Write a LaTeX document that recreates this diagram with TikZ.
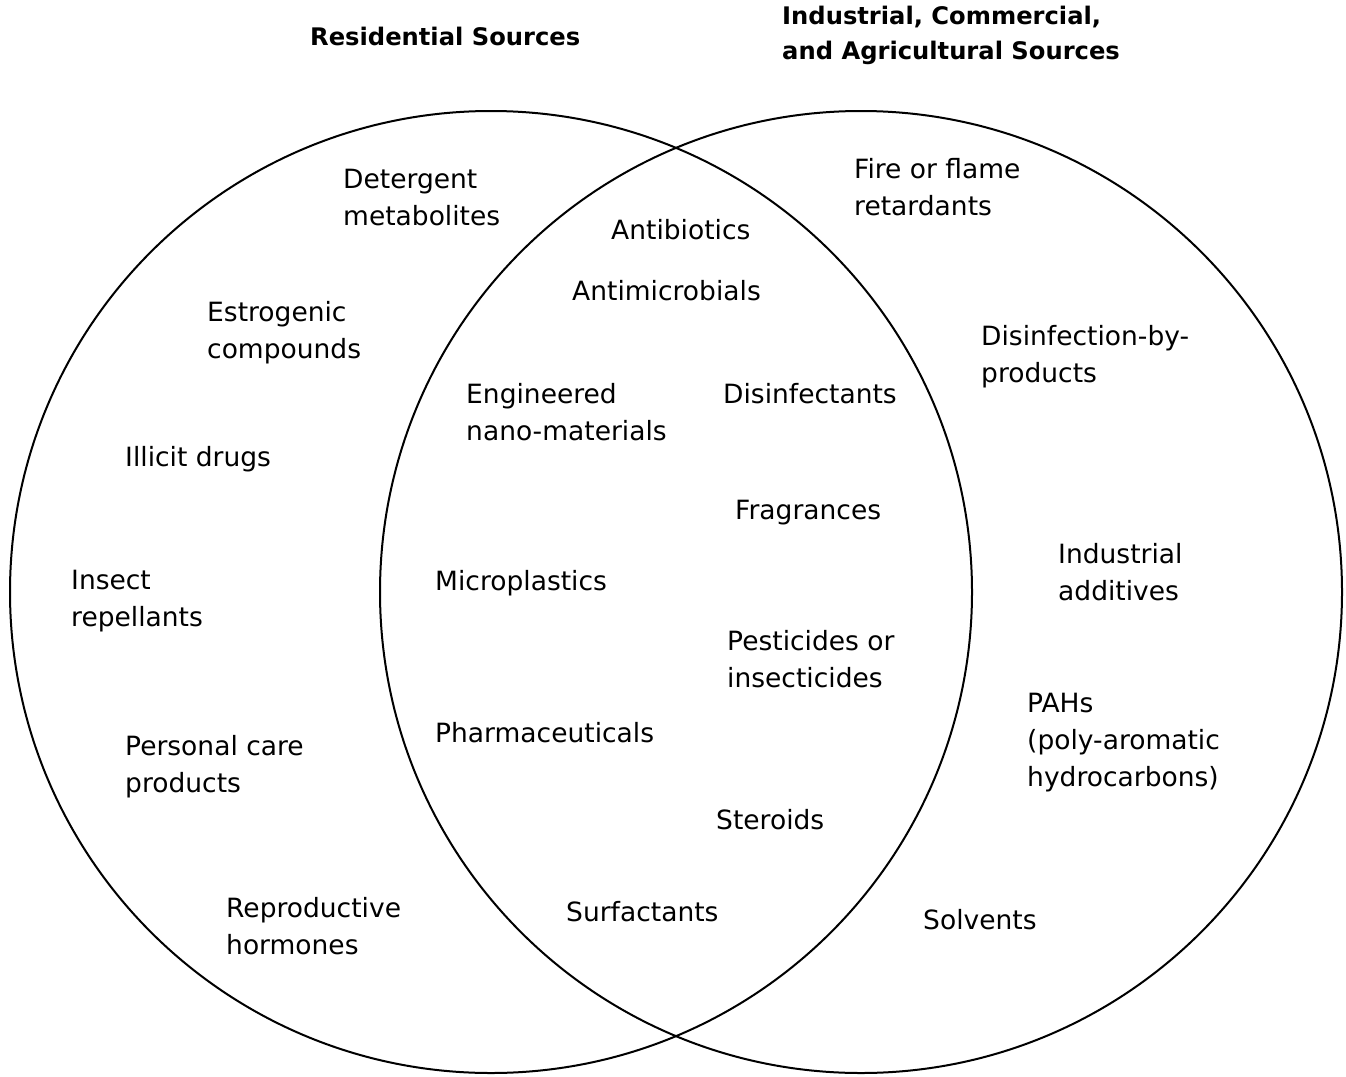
\documentclass[tikz,border=0pt]{standalone}
\usepackage{fontspec}
\setmainfont{DejaVu Sans}
\begin{document}
\begin{tikzpicture}[x=1pt,y=-1pt,
  lbl/.style={anchor=north west,inner sep=0pt,align=left,font=\fontsize{26.5}{37}\selectfont},
  ttl/.style={anchor=north west,inner sep=0pt,align=left,font=\fontsize{24.2}{35}\selectfont\bfseries},
  ring/.style={draw=black,line width=2pt}]
\useasboundingbox (0,0) rectangle (1346,1076);
\node[ring,circle,minimum size=962pt,inner sep=0pt] (L) at (491,592) {};
\node[ring,circle,minimum size=962pt,inner sep=0pt] (R) at (861,592) {};
\node[ttl] (tL) at (310,27) {Residential Sources};
\node[ttl] (tR) at (782,6) {Industrial, Commercial,\\and Agricultural Sources};
\node[lbl] (det) at (343,169) {Detergent\\metabolites};
\node[lbl] (abx) at (611,219) {Antibiotics};
\node[lbl] (fire) at (854,158) {Fire or flame\\retardants};
\node[lbl] (est) at (207,301) {Estrogenic\\compounds};
\node[lbl] (amc) at (572,280) {Antimicrobials};
\node[lbl] (dbp) at (981,325) {Disinfection-by-\\products};
\node[lbl] (eng) at (466,383) {Engineered\\nano-materials};
\node[lbl] (dis) at (723,383) {Disinfectants};
\node[lbl] (ill) at (125,446) {Illicit drugs};
\node[lbl] (fra) at (735,500) {Fragrances};
\node[lbl] (ind) at (1058,543) {Industrial\\additives};
\node[lbl] (ins) at (71,570) {Insect\\repellants};
\node[lbl] (mic) at (435,570) {Microplastics};
\node[lbl] (pes) at (727,630) {Pesticides or\\insecticides};
\node[lbl] (pah) at (1027,693) {PAHs\\(poly-aromatic\\hydrocarbons)};
\node[lbl] (pha) at (435,722) {Pharmaceuticals};
\node[lbl] (per) at (125,735) {Personal care\\products};
\node[lbl] (ste) at (716,809) {Steroids};
\node[lbl] (rep) at (226,897) {Reproductive\\hormones};
\node[lbl] (sur) at (566,901) {Surfactants};
\node[lbl] (sol) at (923,909) {Solvents};
\end{tikzpicture}
\end{document}
